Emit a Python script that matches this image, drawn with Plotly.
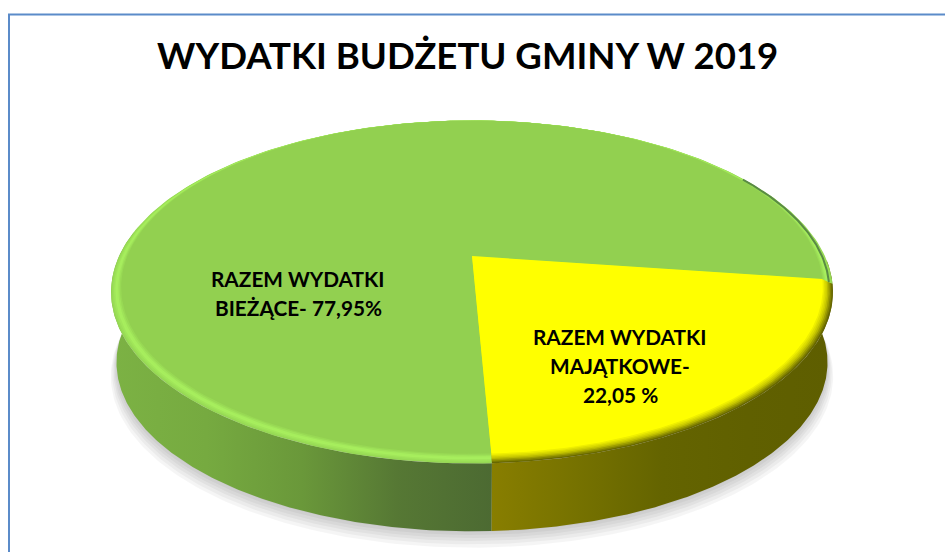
import numpy as np
import plotly.graph_objects as go

title = "WYDATKI BUDŻETU GMINY W 2019"
shares = [77.95, 22.05]
label_lines = [["RAZEM WYDATKI", "BIEŻĄCE- 77,95%"],
               ["RAZEM WYDATKI", "MAJĄTKOWE-", "22,05 %"]]

W, H = 945, 552
CX, APEX_Y, TOP_Y = 472.0, 260.0, 120.0
A, B, K = 165.5, 354.6, 0.1866
DEPTH = 73.0
ANCHOR = -8.0  # degrees: where the yellow slice starts on the disc


def project(theta_deg, r=1.0, s=1.0, dy=0.0):
    t = np.radians(theta_deg)
    u, v = r * np.cos(t), r * np.sin(t)
    d = 1 + K * v
    x = CX + B * u / d
    y = APEX_Y - A * v / d
    return CX + s * (x - CX), TOP_Y + s * (y - TOP_Y) + dy


def rgb(c):
    return f"rgb({int(c[0])},{int(c[1])},{int(c[2])})"


def ramp(stops, n):
    pos = np.linspace(0, len(stops) - 1, n)
    out = []
    for p in pos:
        i = min(int(p), len(stops) - 2)
        f = p - i
        out.append(tuple(stops[i][j] * (1 - f) + stops[i + 1][j] * f for j in range(3)))
    return out


sweep_y = 360 * shares[1] / sum(shares)
sweep_g = 360 * shares[0] / sum(shares)
yellow_a = (ANCHOR - sweep_y, ANCHOR)
green_a = (ANCHOR, ANCHOR + sweep_g)

fig = go.Figure()


def poly(x, y, **kw):
    fig.add_trace(go.Scatter(x=x, y=y, mode="lines", fill="toself", line=dict(width=0),
                             hoverinfo="skip", showlegend=False, **kw))


def sector(a, s, color):
    th = np.linspace(a[0], a[1], 240)
    x, y = project(th, s=s)
    x0, y0 = project(0.0, r=0.0, s=s)
    poly(np.r_[x0, x, x0], np.r_[y0, y, y0], fillcolor=color)


# soft shadow under the disc
full = np.linspace(0, 360, 361)
for off, grow in [(14, 1.016), (12, 1.012), (10, 1.008), (8, 1.005), (6, 1.002), (4, 0.999)]:
    x, y = project(full, s=0.985 * grow, dy=DEPTH + off - 3)
    poly(x, y, fillcolor="rgba(0,0,0,0.04)")

# side wall
BOTTOM_S = 0.985


def wall(a0, a1, stops):
    th = np.linspace(a0, a1, 200)
    xt, yt = project(th)
    xb, yb = project(th[::-1], s=BOTTOM_S, dy=DEPTH)
    scale = [[i / (len(stops) - 1), rgb(c)] for i, c in enumerate(stops)]
    poly(np.r_[xt, xb], np.r_[yt, yb],
         fillgradient=dict(type="horizontal", colorscale=scale))


split = yellow_a[0]
wall(split, -180 - 10, [(124, 178, 68), (118, 170, 64), (106, 152, 58), (86, 120, 52), (76, 106, 50)])
wall(split, 0, [(136, 126, 0), (118, 114, 0), (100, 100, 0), (96, 96, 0), (94, 94, 0)])

# bevel rim, then the disc faces
N = 8
SCALES = np.linspace(1.0, 0.972, N)
g_ramp = ramp([(150, 216, 84), (170, 242, 96), (146, 208, 80)], N)
y_ramp = ramp([(104, 104, 0), (200, 200, 0), (255, 255, 0)], N)
for s, gc, yc in zip(SCALES, g_ramp, y_ramp):
    sector(green_a, s, rgb(gc))
    sector(yellow_a, s, rgb(yc))

# thin dark edge on the shaded upper right of the green slice
th = np.linspace(ANCHOR, 32, 80)
x, y = project(th, s=0.99)
fig.add_trace(go.Scatter(x=x, y=y, mode="lines", line=dict(color="rgba(60,100,60,0.7)", width=2),
                         hoverinfo="skip", showlegend=False))

LBL = dict(showarrow=False, xref="x", yref="y", xanchor="center", yanchor="middle")
ann = [dict(x=467, y=55, text=f"<b>{title}</b>",
            font=dict(family="Lato", size=36.6, color="#000000"), **LBL)]
for lines, xc, y0 in zip(label_lines, (298, 620), (278, 336)):
    for i, t in enumerate(lines):
        ann.append(dict(x=xc, y=y0 + 29 * i, text=f"<b>{t}</b>",
                        font=dict(family="Lato", size=20.8, color="#000000"), **LBL))

fig.update_layout(
    width=W, height=H, margin=dict(l=0, r=0, t=0, b=0),
    paper_bgcolor="#ffffff", plot_bgcolor="#ffffff", showlegend=False,
    xaxis=dict(range=[0, W], visible=False, fixedrange=True),
    yaxis=dict(range=[H, 0], visible=False, fixedrange=True),
    annotations=ann,
    shapes=[dict(type="rect", xref="x", yref="y", x0=9, y0=14.5, x1=W + 10, y1=H + 10,
                 line=dict(color="#5b8bc9", width=2), fillcolor="rgba(0,0,0,0)", layer="above")],
)

fig.write_html("out.html", config={"displayModeBar": False},
               post_script="document.body.style.margin='0';document.body.style.overflow='hidden';")
